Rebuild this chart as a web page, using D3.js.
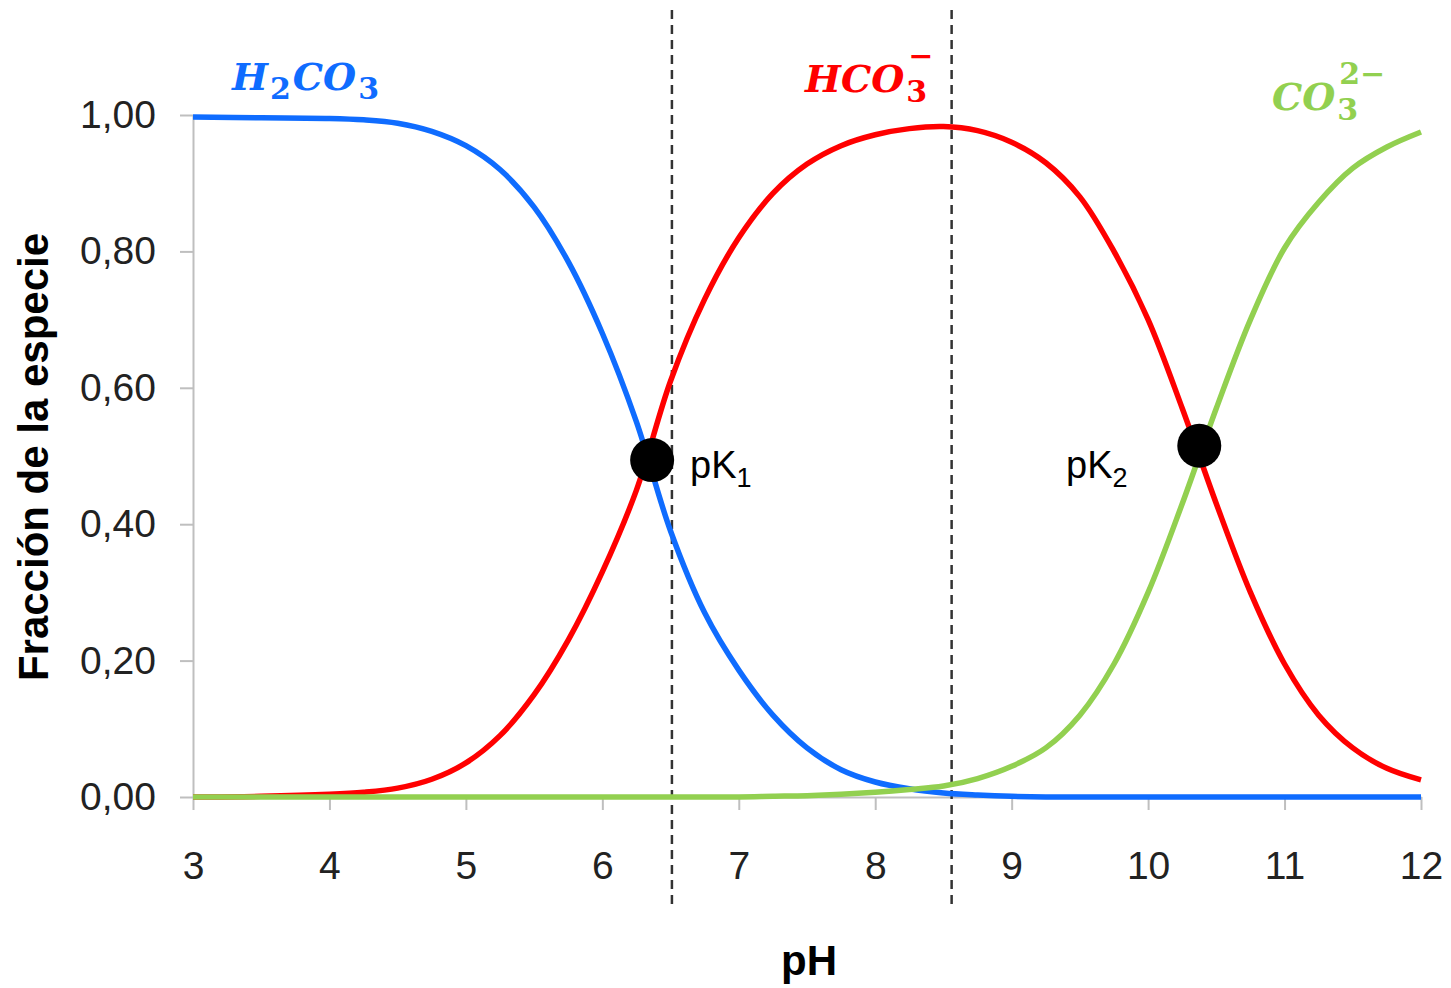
<!DOCTYPE html>
<html>
<head>
<meta charset="utf-8">
<script src="https://cdn.jsdelivr.net/npm/d3@7"></script>
<style>
  body { margin: 0; background: #fff; }
  svg { display: block; }
</style>
</head>
<body>
<svg class="chart"></svg>
<script>
const svgWidth = 1451;
const svgHeight = 988;

// values
const ph = [3, 3.5, 4, 4.25, 4.5, 4.75, 5, 5.25, 5.5, 5.75, 6, 6.25, 6.5, 6.75, 7, 7.25, 7.5, 7.75, 8, 8.25, 8.5, 8.75, 9, 9.25, 9.5, 9.75, 10, 10.25, 10.5, 10.75, 11, 11.25, 11.5, 11.75, 12];
const h2co3 = [0.997, 0.996, 0.995, 0.993, 0.988, 0.976, 0.955, 0.92, 0.865, 0.785, 0.68, 0.55, 0.39, 0.27, 0.186, 0.12, 0.072, 0.04, 0.022, 0.012, 0.006, 0.003, 0.001, 0, 0, 0, 0, 0, 0, 0, 0, 0, 0, 0, 0];
const hco3 = [0, 0.001, 0.004, 0.007, 0.013, 0.026, 0.05, 0.09, 0.15, 0.23, 0.33, 0.45, 0.61, 0.73, 0.82, 0.885, 0.928, 0.955, 0.971, 0.98, 0.983, 0.977, 0.96, 0.93, 0.88, 0.80, 0.70, 0.57, 0.43, 0.30, 0.195, 0.12, 0.072, 0.042, 0.025];
const co3 = [0, 0, 0, 0, 0, 0, 0, 0, 0, 0, 0, 0, 0, 0, 0, 0.001, 0.002, 0.004, 0.007, 0.011, 0.016, 0.027, 0.045, 0.072, 0.12, 0.195, 0.30, 0.43, 0.57, 0.70, 0.805, 0.872, 0.922, 0.953, 0.975];

const pkPoints = [{ x: 6.365, y: 0.494, label: "1" }, { x: 10.375, y: 0.515, label: "2" }];
const dashedLines = [6.51, 8.56];

const xTicks = [3, 4, 5, 6, 7, 8, 9, 10, 11, 12];
const yTicks = [0, 0.2, 0.4, 0.6, 0.8, 1.0];
const yTickLabels = ["0,00", "0,20", "0,40", "0,60", "0,80", "1,00"];

var margin = { top: 115, right: 30, bottom: 191, left: 193 };

const svg = d3.select('.chart')
  .attr("width", svgWidth)
  .attr("height", svgHeight);

var x = d3.scaleLinear().domain([3, 12]).range([margin.left, svgWidth - margin.right]);
var y = d3.scaleLinear().domain([0, 1]).range([svgHeight - margin.bottom, margin.top]);

// axes
var xAxis = svg.append("g")
  .attr("transform", "translate(0," + y(0) + ")")
  .call(d3.axisBottom(x).tickValues(xTicks).tickSize(13).tickSizeOuter(0).tickPadding(41));
var yAxis = svg.append("g")
  .attr("transform", "translate(" + x(3) + ",0)")
  .call(d3.axisLeft(y).tickValues(yTicks).tickSize(13).tickSizeOuter(0).tickPadding(24)
    .tickFormat(function(d, i) { return yTickLabels[i]; }));

[xAxis, yAxis].forEach(function(a) {
  a.select(".domain").attr("stroke", "#bfbfbf").attr("stroke-width", 2);
  a.selectAll(".tick line").attr("stroke", "#bfbfbf").attr("stroke-width", 2);
  a.selectAll(".tick text")
    .attr("fill", "#222")
    .style("font-family", "Liberation Sans, Arial, sans-serif")
    .style("font-size", "39px");
});

// dashed verticals
svg.append("g").selectAll("line")
  .data(dashedLines)
  .enter().append("line")
    .attr("x1", function(d) { return x(d); })
    .attr("x2", function(d) { return x(d); })
    .attr("y1", 10)
    .attr("y2", 905)
    .attr("stroke", "#333")
    .attr("stroke-width", 2.5)
    .attr("stroke-dasharray", "9,6");

// curves
var series = [
  { values: hco3, color: "#ff0000" },
  { values: h2co3, color: "#0f6cff" },
  { values: co3, color: "#92d050" }
];

var line = d3.line()
  .x(function(d) { return x(d[0]); })
  .y(function(d) { return y(d[1]); })
  .curve(d3.curveCatmullRom.alpha(0.5));

svg.append("g").selectAll("path")
  .data(series)
  .enter().append("path")
    .attr("fill", "none")
    .attr("stroke", function(d) { return d.color; })
    .attr("stroke-width", 5.5)
    .attr("d", function(d) { return line(ph.map(function(p, i) { return [p, d.values[i]]; })); });

// pK dots
svg.append("g").selectAll("circle")
  .data(pkPoints)
  .enter().append("circle")
    .attr("cx", function(d) { return x(d.x); })
    .attr("cy", function(d) { return y(d.y); })
    .attr("r", 22)
    .attr("fill", "#000");

var pkText = svg.append("g")
  .style("font-family", "Liberation Sans, Arial, sans-serif")
  .style("font-size", "38px")
  .attr("fill", "#000");
var pkPos = [[690, 478], [1066, 478]];
pkPoints.forEach(function(d, i) {
  var t = pkText.append("text").attr("x", pkPos[i][0]).attr("y", pkPos[i][1]);
  t.append("tspan").text("pK");
  t.append("tspan").attr("dy", 9).style("font-size", "27px").text(d.label);
});

// species labels
var serif = "DejaVu Serif, Liberation Serif, serif";
function species(xp, yp, color, parts) {
  var t = svg.append("text")
    .attr("x", xp).attr("y", yp)
    .attr("fill", color)
    .style("font-family", serif)
    .style("font-style", "italic")
    .style("font-weight", "bold")
    .style("font-size", "38px");
  parts.forEach(function(p) {
    var s = t.append("tspan").text(p.t);
    if (p.dy) s.attr("dy", p.dy);
    if (p.dx) s.attr("dx", p.dx);
    if (p.small) s.style("font-size", "30px").style("font-style", "normal");
  });
  return t;
}
species(232, 90, "#0f6cff", [
  { t: "H" }, { t: "2", small: true, dy: 9, dx: 2 }, { t: "CO", dy: -9, dx: 2 }, { t: "3", small: true, dy: 9, dx: 2 }
]);

species(805, 92, "#ff0000", [
  { t: "HCO" }, { t: "3", small: true, dy: 10, dx: 2 }, { t: "\u2212", small: true, dx: -19, dy: -36 }
]);

species(1272, 110, "#92d050", [
  { t: "CO" }, { t: "3", small: true, dy: 10, dx: 2 }, { t: "2\u2212", small: true, dx: -19, dy: -36 }
]);

// axis titles
svg.append("text")
  .attr("x", 809).attr("y", 975)
  .attr("text-anchor", "middle")
  .style("font-family", "Liberation Sans, Arial, sans-serif")
  .style("font-weight", "bold")
  .style("font-size", "42px")
  .text("pH");

svg.append("text")
  .attr("transform", "translate(48,457) rotate(-90)")
  .attr("text-anchor", "middle")
  .style("font-family", "Liberation Sans, Arial, sans-serif")
  .style("font-weight", "bold")
  .style("font-size", "42px")
  .text("Fracción de la especie");
</script>
</body>
</html>
